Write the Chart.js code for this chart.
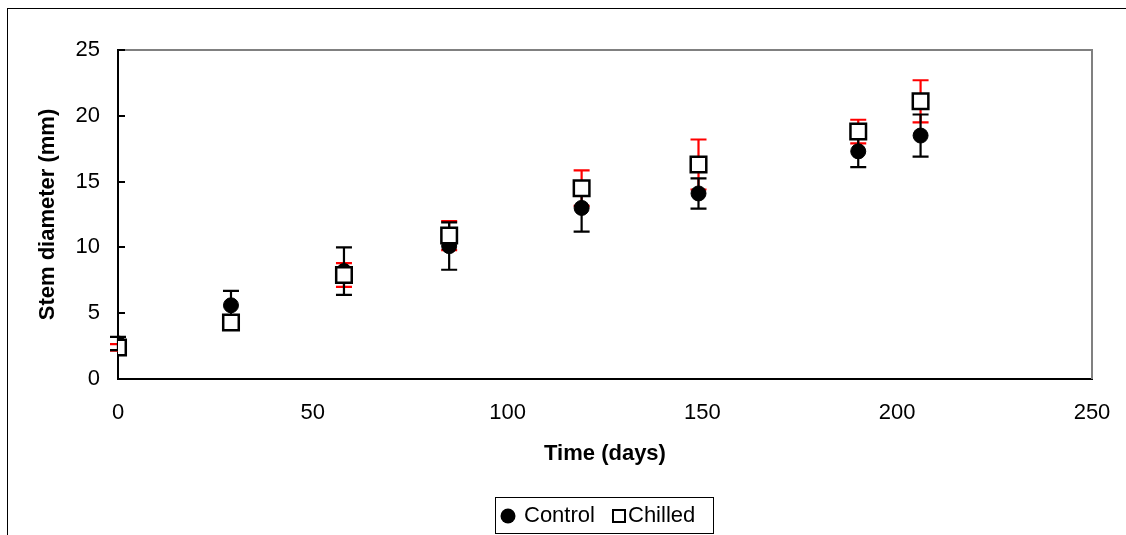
<!DOCTYPE html>
<html><head><meta charset="utf-8">
<script src="https://cdn.jsdelivr.net/npm/chart.js@4"></script>
<style>
html,body{margin:0;padding:0;background:#fff;}
#wrap{position:relative;width:1126px;height:535px;overflow:hidden;}
canvas{display:block;}
</style></head><body>
<div id="wrap"><canvas id="c" width="1126" height="535"></canvas></div>
<script>
const days = [0, 29, 58, 85, 119, 149, 190, 206];
const controlMean = [2.7, 5.6, 8.2, 10.1, 13.0, 14.1, 17.3, 18.5];
const controlErr = [0.5, 1.1, 1.8, 1.8, 1.8, 1.15, 1.2, 1.6];
const chilledMean = [2.4, 4.3, 7.9, 10.9, 14.5, 16.3, 18.8, 21.1];
const chilledErr = [0.25, 0.3, 0.9, 1.1, 1.35, 1.9, 0.9, 1.6];
const xTicks = [0, 50, 100, 150, 200, 250];
const yTicks = [0, 5, 10, 15, 20, 25];
const seriesNames = ['Control', 'Chilled'];
const xTitle = 'Time (days)';
const yTitle = 'Stem diameter (mm)';

const FONT = '"Liberation Sans", Arial, sans-serif';

function pts(xs, ys) { return xs.map((x, i) => ({x: x, y: ys[i]})); }

const decor = {
  id: 'decor',
  beforeDraw(chart) {
    const ctx = chart.ctx;
    ctx.save();
    ctx.fillStyle = '#fff';
    ctx.fillRect(0, 0, chart.width, chart.height);
    ctx.strokeStyle = '#000';
    ctx.lineWidth = 1;
    ctx.strokeRect(7.5, 8.5, 1200, 600);
    ctx.restore();
  },
  beforeDatasetsDraw(chart) {
    const ctx = chart.ctx, a = chart.chartArea;
    const xs = chart.scales.x, ys = chart.scales.y;
    ctx.save();
    ctx.strokeStyle = '#808080';
    ctx.lineWidth = 2;
    ctx.beginPath();
    ctx.moveTo(a.left, a.top);
    ctx.lineTo(a.right, a.top);
    ctx.lineTo(a.right, a.bottom);
    ctx.stroke();
    ctx.strokeStyle = '#000';
    ctx.lineWidth = 2;
    yTicks.forEach(v => {
      const py = Math.round(ys.getPixelForValue(v));
      ctx.beginPath();
      ctx.moveTo(a.left, py);
      ctx.lineTo(a.left + 7, py);
      ctx.stroke();
    });
    const drawErr = (means, errs, color) => {
      ctx.strokeStyle = color;
      ctx.lineWidth = 2.2;
      means.forEach((m, i) => {
        const px = xs.getPixelForValue(days[i]);
        const top = ys.getPixelForValue(m + errs[i]);
        const bot = ys.getPixelForValue(m - errs[i]);
        ctx.beginPath();
        ctx.moveTo(px, top); ctx.lineTo(px, bot);
        ctx.moveTo(px - 8, top); ctx.lineTo(px + 8, top);
        ctx.moveTo(px - 8, bot); ctx.lineTo(px + 8, bot);
        ctx.stroke();
      });
    };
    drawErr(chilledMean, chilledErr, '#ff0000');
    drawErr(controlMean, controlErr, '#000000');
    ctx.restore();
  },
  afterDraw(chart) {
    const ctx = chart.ctx, a = chart.chartArea;
    ctx.save();
    ctx.fillStyle = '#000';
    ctx.font = 'bold 22px ' + FONT;
    ctx.textAlign = 'center';
    ctx.textBaseline = 'middle';
    ctx.fillText(xTitle, (a.left + a.right) / 2, 454);
    ctx.save();
    ctx.translate(48, (a.top + a.bottom) / 2);
    ctx.rotate(-Math.PI / 2);
    ctx.fillText(yTitle, 0, 0);
    ctx.restore();
    ctx.strokeStyle = '#000';
    ctx.lineWidth = 1;
    ctx.strokeRect(495.5, 497.5, 218, 36);
    ctx.beginPath();
    ctx.arc(508, 516, 7.5, 0, Math.PI * 2);
    ctx.fill();
    ctx.font = '22px ' + FONT;
    ctx.textAlign = 'left';
    ctx.fillText(seriesNames[0], 524, 516);
    ctx.lineWidth = 2;
    ctx.fillStyle = '#fff';
    ctx.fillRect(613, 510, 12, 12);
    ctx.strokeRect(613, 510, 12, 12);
    ctx.fillStyle = '#000';
    ctx.fillText(seriesNames[1], 628, 516);
    ctx.restore();
  }
};

new Chart(document.getElementById('c'), {
  type: 'scatter',
  data: {
    datasets: [
      {
        label: seriesNames[0],
        data: pts(days, controlMean),
        pointStyle: 'circle',
        pointRadius: 7.5,
        pointHoverRadius: 7.5,
        backgroundColor: '#000',
        borderColor: '#000',
        borderWidth: 1,
        order: 2
      },
      {
        label: seriesNames[1],
        data: pts(days, chilledMean),
        pointStyle: 'rect',
        pointRadius: 11,
        pointHoverRadius: 11,
        backgroundColor: '#fff',
        borderColor: '#000',
        borderWidth: 2.5,
        order: 1
      }
    ]
  },
  options: {
    responsive: false,
    devicePixelRatio: 1,
    animation: false,
    events: [],
    layout: { padding: { left: 0, top: 50, right: 34, bottom: 0 } },
    plugins: { legend: { display: false }, tooltip: { enabled: false } },
    scales: {
      x: {
        type: 'linear', min: 0, max: 250,
        afterBuildTicks: ax => { ax.ticks = xTicks.map(v => ({value: v})); },
        afterFit: ax => { ax.height = 156; ax.paddingLeft = 0; ax.paddingRight = 0; },
        ticks: { color: '#000', font: { family: FONT, size: 22 }, padding: 21, maxRotation: 0 },
        grid: { drawOnChartArea: false, drawTicks: false },
        border: { color: '#000', width: 2 }
      },
      y: {
        type: 'linear', min: 0, max: 25,
        afterBuildTicks: ax => { ax.ticks = yTicks.map(v => ({value: v})); },
        afterFit: ax => { ax.width = 118; ax.paddingTop = 0; ax.paddingBottom = 0; },
        ticks: { color: '#000', font: { family: FONT, size: 22 }, padding: 18 },
        grid: { drawOnChartArea: false, drawTicks: false },
        border: { color: '#000', width: 2 }
      }
    }
  },
  plugins: [decor]
});
</script>
</body></html>
